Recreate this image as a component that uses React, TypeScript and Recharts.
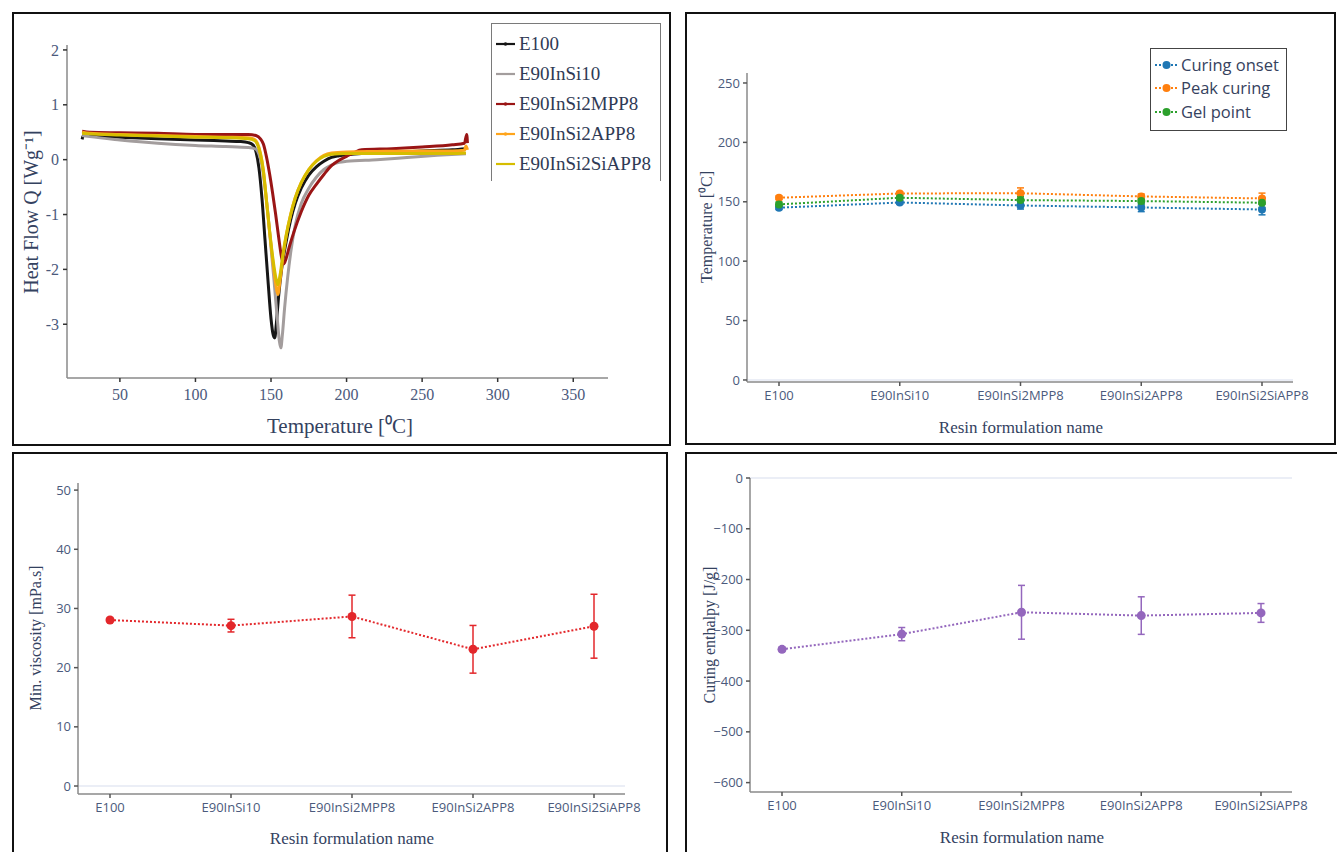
import React from 'react';
import { LineChart, Line, XAxis, YAxis, ErrorBar, Legend, ReferenceLine, Label } from 'recharts';

// ---------- DSC curves (top-left) ----------
const e100T = [25, 26, 30, 50, 75, 100, 120, 130, 135, 138, 140, 142, 144, 146, 148, 150, 151.5, 152.5, 153.5, 155, 157, 160, 163, 166, 170, 175, 180, 185, 190, 195, 200, 210, 230, 250, 270, 279];
const e100Q = [0.37, 0.45, 0.44, 0.41, 0.38, 0.36, 0.34, 0.33, 0.31, 0.27, 0.15, -0.15, -0.7, -1.45, -2.2, -2.9, -3.2, -3.25, -3.0, -2.5, -2.0, -1.5, -1.1, -0.8, -0.52, -0.28, -0.13, -0.03, 0.04, 0.07, 0.09, 0.11, 0.13, 0.16, 0.18, 0.2];

const e90T = [25, 30, 50, 75, 100, 120, 135, 140, 142, 144, 146, 148, 150, 152, 154, 155.5, 156.5, 157.5, 159, 161, 163, 166, 170, 175, 180, 185, 190, 195, 200, 220, 240, 260, 279];
const e90Q = [0.44, 0.42, 0.36, 0.3, 0.26, 0.24, 0.22, 0.19, 0.1, -0.1, -0.5, -1.0, -1.6, -2.2, -2.85, -3.3, -3.43, -3.2, -2.7, -2.15, -1.7, -1.2, -0.8, -0.52, -0.32, -0.18, -0.1, -0.05, -0.03, 0.0, 0.04, 0.08, 0.11];

const mppT = [25, 30, 50, 75, 100, 120, 135, 140, 143, 145, 147, 149, 151, 153, 155, 157, 158.5, 160, 162, 165, 170, 175, 180, 185, 190, 195, 200, 205, 210, 230, 250, 270, 278, 279.5, 280];
const mppQ = [0.52, 0.5, 0.49, 0.48, 0.46, 0.46, 0.46, 0.44, 0.38, 0.28, 0.05, -0.25, -0.6, -0.98, -1.4, -1.78, -1.9, -1.8, -1.6, -1.33, -0.95, -0.65, -0.45, -0.27, -0.11, -0.01, 0.06, 0.13, 0.18, 0.2, 0.23, 0.27, 0.3, 0.46, 0.3];

const appT = [25, 30, 50, 75, 100, 120, 135, 139, 141, 143, 145, 147, 149, 151, 153, 154.5, 156, 158, 160, 163, 166, 170, 175, 180, 185, 190, 200, 220, 250, 270, 278, 279, 280];
const appQ = [0.5, 0.48, 0.46, 0.44, 0.42, 0.41, 0.4, 0.37, 0.3, 0.12, -0.2, -0.75, -1.3, -1.8, -2.25, -2.46, -2.2, -1.75, -1.4, -1.0, -0.7, -0.42, -0.18, -0.02, 0.08, 0.12, 0.14, 0.15, 0.16, 0.16, 0.17, 0.25, 0.18];

const siT = [25, 30, 50, 75, 100, 120, 135, 139, 141, 143, 145, 147, 149, 151, 153, 154.5, 156, 158, 160, 163, 166, 170, 175, 180, 185, 190, 200, 220, 250, 270, 279];
const siQ = [0.48, 0.47, 0.45, 0.43, 0.41, 0.4, 0.38, 0.35, 0.28, 0.1, -0.22, -0.75, -1.28, -1.75, -2.12, -2.28, -2.1, -1.7, -1.38, -1.0, -0.7, -0.42, -0.18, -0.03, 0.06, 0.1, 0.11, 0.11, 0.11, 0.11, 0.12];

const dscTicksX = [50, 100, 150, 200, 250, 300, 350];
const dscTicksY = [-3, -2, -1, 0, 1, 2];

// ---------- formulation data ----------
const categories = ['E100', 'E90InSi10', 'E90InSi2MPP8', 'E90InSi2APP8', 'E90InSi2SiAPP8'];
const onsetVals = [145.0, 149.4, 146.9, 145.2, 143.5];
const onsetErr = [1.5, 1.5, 3, 3.5, 4.5];
const peakVals = [153.4, 157.0, 157.2, 154.5, 152.8];
const peakErr = [1.5, 1.5, 4.5, 2, 4.5];
const gelVals = [147.8, 153.4, 151.4, 150.6, 149.2];
const gelErr = [2, 2.5, 3, 3, 4];
const viscVals = [28.05, 27.1, 28.65, 23.1, 27.0];
const viscErr = [0.3, 1.07, 3.6, 4.03, 5.4];
const enthVals = [-337.5, -307.5, -264.5, -271, -265.8];
const enthErr = [4, 13, 53, 37, 18.5];

const tempTicks = [0, 50, 100, 150, 200, 250];
const viscTicks = [0, 10, 20, 30, 40, 50];
const enthTicks = [-600, -500, -400, -300, -200, -100, 0];

const pair = (ts: number[], qs: number[]) => ts.map((t, i) => ({ t, q: qs[i] }));
const dscSeries = [
  { name: 'E100', data: pair(e100T, e100Q), color: '#161616', marker: true },
  { name: 'E90InSi10', data: pair(e90T, e90Q), color: '#a39d9d', marker: false },
  { name: 'E90InSi2MPP8', data: pair(mppT, mppQ), color: '#9a1515', marker: true },
  { name: 'E90InSi2APP8', data: pair(appT, appQ), color: '#ffa51c', marker: true },
  { name: 'E90InSi2SiAPP8', data: pair(siT, siQ), color: '#d6bd00', marker: false },
];

const tempTable = categories.map((name, i) => ({
  name,
  onset: onsetVals[i], onsetErr: onsetErr[i],
  peak: peakVals[i], peakErr: peakErr[i],
  gel: gelVals[i], gelErr: gelErr[i],
}));
const viscTable = categories.map((name, i) => ({ name, v: viscVals[i], e: viscErr[i] }));
const enthTable = categories.map((name, i) => ({ name, v: enthVals[i], e: enthErr[i] }));

const tempSeries = [
  { key: 'onset', err: 'onsetErr', name: 'Curing onset', color: '#1f77b4' },
  { key: 'peak', err: 'peakErr', name: 'Peak curing', color: '#ff7f0e' },
  { key: 'gel', err: 'gelErr', name: 'Gel point', color: '#2ca02c' },
];

const SERIF = '"Liberation Serif", "Times New Roman", serif';
const SANS = '"Open Sans", "Noto Sans", sans-serif';
const TICK_COLOR = '#4b5a7c';
const TITLE_COLOR = '#34425f';

const title = (text: string, x: number, y: number, size: number, rotate = false) => () => (
  <text
    x={x}
    y={y}
    textAnchor="middle"
    dominantBaseline="central"
    transform={rotate ? `rotate(-90 ${x} ${y})` : undefined}
    style={{ fontFamily: SERIF, fontSize: size, fill: TITLE_COLOR }}
  >
    {text}
  </text>
);

const minus = (v: number) => String(v).replace('-', '\u2212');

const panelStyle = (left: number, top: number, width: number, height: number): React.CSSProperties => ({
  position: 'absolute', left, top, width, height, border: '2.5px solid #111', boxSizing: 'border-box',
});

const DscLegend = () => (
  <div style={{
    width: 170, height: 158, boxSizing: 'border-box', paddingTop: 5, background: '#fff',
    borderTop: '1.5px solid #7a7a7a', borderLeft: '1.5px solid #7a7a7a', borderRight: '1.5px solid #7a7a7a',
  }}>
    {dscSeries.map((s) => (
      <div key={s.name} style={{ height: 30, display: 'flex', alignItems: 'center' }}>
        <svg width={24} height={10} style={{ marginLeft: 2 }}>
          <line x1={2} y1={5} x2={21} y2={5} stroke={s.color} strokeWidth={2.2} />
          {s.marker && <circle cx={11.5} cy={5} r={1.8} fill={s.color} />}
        </svg>
        <span style={{ fontFamily: SERIF, fontSize: 19, color: '#2f3a55', marginLeft: 1, lineHeight: '20px' }}>{s.name}</span>
      </div>
    ))}
  </div>
);

const TempLegend = () => (
  <div style={{
    width: 137, height: 83, boxSizing: 'border-box', paddingTop: 4, background: '#fff',
    border: '1.5px solid #444',
  }}>
    {tempSeries.map((s) => (
      <div key={s.key} style={{ height: 23.5, display: 'flex', alignItems: 'center' }}>
        <svg width={26} height={10} style={{ marginLeft: 3 }}>
          <line x1={1} y1={5} x2={24} y2={5} stroke={s.color} strokeWidth={2} strokeDasharray="2 2" />
          <circle cx={12.5} cy={5} r={4} fill={s.color} />
        </svg>
        <span style={{ fontFamily: SANS, fontSize: 16.5, color: '#36425e', marginLeft: 1, lineHeight: '20px' }}>{s.name}</span>
      </div>
    ))}
  </div>
);

const catXAxis = (pad: { left: number; right: number }, titleEl: any) => (
  <XAxis
    dataKey="name"
    type="category"
    interval={0}
    padding={pad}
    height={40}
    tickSize={4}
    tickMargin={5}
    tick={{ fill: TICK_COLOR, fontSize: 13, fontFamily: SANS }}
    tickLine={{ stroke: '#555', strokeWidth: 1.5 }}
    axisLine={{ stroke: '#8a8a8a', strokeWidth: 1.5 }}
  >
    <Label content={titleEl} />
  </XAxis>
);

export default function App() {
  return (
    <div style={{ position: 'absolute', left: 0, top: 0, width: 1337, height: 852, background: '#fff', overflow: 'hidden' }}>
      {/* panel frames */}
      <div style={panelStyle(12, 12, 658.5, 434)} />
      <div style={panelStyle(685, 12, 651, 433)} />
      <div style={panelStyle(12, 451.5, 656, 420)} />
      <div style={panelStyle(685, 451.5, 660, 420)} />

      {/* Top-left: DSC curves */}
      <div style={{ position: 'absolute', left: 0, top: 0 }}>
        <LineChart width={680} height={450} margin={{ top: 45, right: 72, bottom: 22, left: 17 }}>
          <XAxis
            dataKey="t"
            type="number"
            domain={[15, 373]}
            ticks={dscTicksX}
            allowDataOverflow
            height={50}
            tickSize={4}
            tickMargin={7}
            tick={{ fill: TICK_COLOR, fontSize: 16, fontFamily: SERIF }}
            tickLine={{ stroke: '#333', strokeWidth: 1.5 }}
            axisLine={{ stroke: '#8a8a8a', strokeWidth: 1.5 }}
          >
            <Label content={title('Temperature [\u2070C]', 340, 426, 21)} />
          </XAxis>
          <YAxis
            type="number"
            domain={[-3.98, 2.09]}
            ticks={dscTicksY}
            allowDataOverflow
            width={50}
            tickSize={4}
            tickMargin={4}
            tick={{ fill: TICK_COLOR, fontSize: 16, fontFamily: SERIF }}
            tickLine={{ stroke: '#333', strokeWidth: 1.5 }}
            axisLine={{ stroke: '#8a8a8a', strokeWidth: 1.5 }}
          >
            <Label content={title('Heat Flow Q [Wg\u207B\u00B9]', 31, 212, 20, true)} />
          </YAxis>
          {dscSeries.map((s) => (
            <Line
              key={s.name}
              data={s.data}
              dataKey="q"
              name={s.name}
              type="monotone"
              stroke={s.color}
              strokeWidth={3}
              dot={false}
              activeDot={false}
              isAnimationActive={false}
            />
          ))}
          <Legend
            layout="vertical"
            align="center"
            verticalAlign="middle"
            content={DscLegend}
            wrapperStyle={{ left: 491, top: 23, width: 170, height: 158 }}
          />
        </LineChart>
      </div>

      {/* Top-right: temperatures */}
      <div style={{ position: 'absolute', left: 686, top: 12 }}>
        <LineChart width={650} height={432} data={tempTable} margin={{ top: 61, right: 43, bottom: 22, left: 11 }}>
          {catXAxis({ left: 32, right: 31 }, title('Resin formulation name', 335, 415, 17))}
          <YAxis
            type="number"
            domain={[-1.7, 258.4]}
            ticks={tempTicks}
            allowDataOverflow
            width={50}
            tickSize={4}
            tickMargin={3}
            tick={{ fill: TICK_COLOR, fontSize: 13, fontFamily: SANS }}
            tickLine={{ stroke: '#555', strokeWidth: 1.5 }}
            axisLine={{ stroke: '#8a8a8a', strokeWidth: 1.5 }}
          >
            <Label content={title('Temperature [\u2070C]', 20, 215, 16, true)} />
          </YAxis>
          <ReferenceLine y={0} stroke="#e4e9f3" strokeWidth={1.5} />
          {tempSeries.map((s) => (
            <Line
              key={s.key}
              dataKey={s.key}
              name={s.name}
              type="linear"
              stroke={s.color}
              strokeWidth={2}
              strokeDasharray="2 2"
              dot={{ r: 4, fill: s.color, stroke: 'none' }}
              activeDot={false}
              isAnimationActive={false}
            >
              <ErrorBar dataKey={s.err} width={3.5} strokeWidth={1.5} stroke={s.color} direction="y" />
            </Line>
          ))}
          <Legend
            layout="vertical"
            align="center"
            verticalAlign="middle"
            content={TempLegend}
            wrapperStyle={{ left: 464, top: 36, width: 137, height: 83 }}
          />
        </LineChart>
      </div>

      {/* Bottom-left: viscosity */}
      <div style={{ position: 'absolute', left: 12, top: 452 }}>
        <LineChart width={655} height={400} data={viscTable} margin={{ top: 31, right: 42, bottom: 18, left: 16 }}>
          {catXAxis({ left: 32, right: 31 }, title('Resin formulation name', 340, 386, 17))}
          <YAxis
            type="number"
            domain={[-1.35, 51.2]}
            ticks={viscTicks}
            allowDataOverflow
            width={50}
            tickSize={4}
            tickMargin={3}
            tick={{ fill: TICK_COLOR, fontSize: 13, fontFamily: SANS }}
            tickLine={{ stroke: '#555', strokeWidth: 1.5 }}
            axisLine={{ stroke: '#8a8a8a', strokeWidth: 1.5 }}
          >
            <Label content={title('Min. viscosity [mPa.s]', 23, 186, 16, true)} />
          </YAxis>
          <ReferenceLine y={0} stroke="#e4e9f3" strokeWidth={1.5} />
          <Line
            dataKey="v"
            name="Min. viscosity"
            type="linear"
            stroke="#e3272b"
            strokeWidth={2}
            strokeDasharray="2 2"
            dot={{ r: 4.5, fill: '#e3272b', stroke: 'none' }}
            activeDot={false}
            isAnimationActive={false}
          >
            <ErrorBar dataKey="e" width={3.5} strokeWidth={1.5} stroke="#e3272b" direction="y" />
          </Line>
        </LineChart>
      </div>

      {/* Bottom-right: enthalpy */}
      <div style={{ position: 'absolute', left: 686, top: 452 }}>
        <LineChart width={651} height={400} data={enthTable} margin={{ top: 26, right: 45, bottom: 20, left: 14 }}>
          {catXAxis({ left: 32, right: 31 }, title('Resin formulation name', 336, 385, 17))}
          <YAxis
            type="number"
            domain={[-618.5, 0]}
            ticks={enthTicks}
            allowDataOverflow
            width={50}
            tickSize={4}
            tickMargin={3}
            tickFormatter={minus}
            tick={{ fill: TICK_COLOR, fontSize: 13, fontFamily: SANS }}
            tickLine={{ stroke: '#555', strokeWidth: 1.5 }}
            axisLine={{ stroke: '#8a8a8a', strokeWidth: 1.5 }}
          >
            <Label content={title('Curing enthalpy [J/g]', 23, 183, 16, true)} />
          </YAxis>
          <ReferenceLine y={0} stroke="#e4e9f3" strokeWidth={1.5} />
          <Line
            dataKey="v"
            name="Curing enthalpy"
            type="linear"
            stroke="#9467bd"
            strokeWidth={2}
            strokeDasharray="2 2"
            dot={{ r: 4.5, fill: '#9467bd', stroke: 'none' }}
            activeDot={false}
            isAnimationActive={false}
          >
            <ErrorBar dataKey="e" width={3.5} strokeWidth={1.5} stroke="#9467bd" direction="y" />
          </Line>
        </LineChart>
      </div>
    </div>
  );
}
